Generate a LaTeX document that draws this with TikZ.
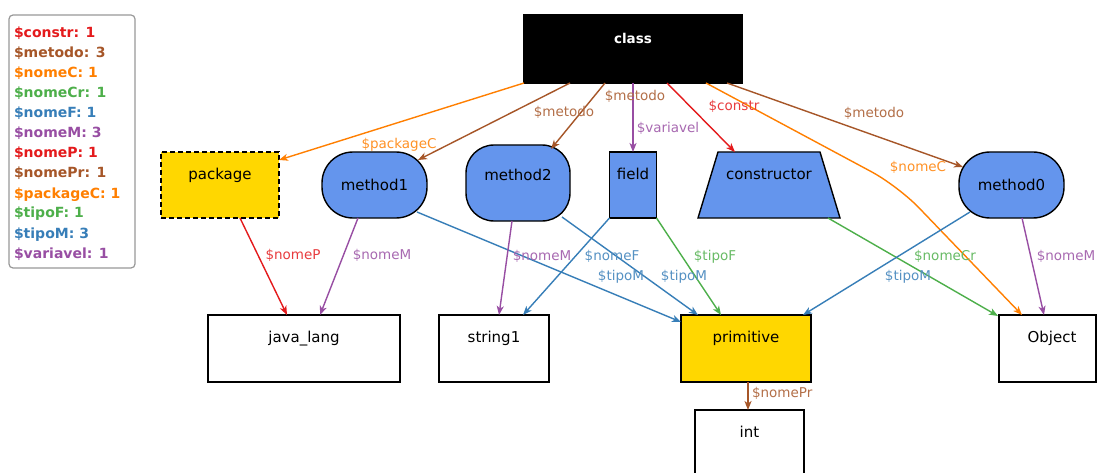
\documentclass[tikz,border=0pt]{standalone}
\usepackage{fontspec}
\setmainfont{DejaVu Sans}
\usetikzlibrary{arrows.meta,calc,backgrounds}
\definecolor{cred}{HTML}{E41A1C}
\definecolor{cbrown}{HTML}{A65628}
\definecolor{corange}{HTML}{FF7F00}
\definecolor{cgreen}{HTML}{4DAF4A}
\definecolor{cblue}{HTML}{377EB8}
\definecolor{cpurple}{HTML}{984EA3}
\definecolor{nblue}{HTML}{6495ED}
\definecolor{nyellow}{HTML}{FFD700}
\begin{document}
\begin{tikzpicture}[x=1pt,y=-1pt,
  every node/.style={inner sep=0pt,outer sep=0pt},
  box/.style={draw=black,line width=1.4pt,fill=white},
  yellowbox/.style={box,fill=nyellow},
  bluebox/.style={box,fill=nblue},
  roundbox/.style={box,fill=nblue,rounded corners=31pt},
  ntxt/.style={font=\fontsize{15}{18}\selectfont,text height=11pt,text depth=3pt},
  elab/.style={font=\fontsize{13.5}{16}\selectfont,text height=10pt,text depth=3pt},
  legtxt/.style={font=\bfseries\fontsize{14}{20}\selectfont,anchor=base west},
  edge/.style={line width=1.4pt,-{Stealth[length=9pt,width=7pt,inset=2.5pt]}}]
\clip (0,0) rectangle (1097,473);

% legend
\node[draw=gray!80,line width=1.2pt,rounded corners=4pt,minimum width=126pt,minimum height=253pt] (legend) at (72,141.5) {};
\foreach \t/\c [count=\i from 0] in {constr: 1/cred, metodo: 3/cbrown, nomeC: 1/corange, nomeCr: 1/cgreen, nomeF: 1/cblue, nomeM: 3/cpurple, nomeP: 1/cred, nomePr: 1/cbrown, packageC: 1/corange, tipoF: 1/cgreen, tipoM: 3/cblue, variavel: 1/cpurple}
  \node[legtxt,text=\c] (leg\i) at (14,38+20*\i) {\$\t};

% nodes
\node[box,fill=black,minimum width=218pt,minimum height=68pt,
  label={[ntxt,font=\bfseries\fontsize{13.5}{16}\selectfont,text=white,yshift=9pt]center:class}] (class) at (633,49) {};
\node[yellowbox,dash pattern=on 5pt off 3pt,minimum width=118pt,minimum height=66pt,
  label={[ntxt,yshift=9pt]center:package}] (package) at (220,185) {};
\node[roundbox,minimum width=105pt,minimum height=66pt,
  label={[ntxt,yshift=-2pt]center:method1}] (method1) at (374.5,185) {};
\node[roundbox,rounded corners=28pt,minimum width=104pt,minimum height=76pt,
  label={[ntxt,yshift=6pt]center:method2}] (method2) at (518,183) {};
\node[bluebox,minimum width=47pt,minimum height=66pt,
  label={[ntxt,yshift=10pt]center:field}] (field) at (633,185) {};
\node[minimum width=142pt,minimum height=66pt,
  label={[ntxt,yshift=10pt]center:constructor}] (constructor) at (769,185) {};
\node[roundbox,minimum width=105pt,minimum height=66pt,
  label={[ntxt,yshift=-2pt]center:method0}] (method0) at (1011.5,185) {};
\node[box,minimum width=192pt,minimum height=67pt,
  label={[ntxt,yshift=10.5pt]center:java\_lang}] (java) at (304,348.5) {};
\node[box,minimum width=110pt,minimum height=67pt,
  label={[ntxt,yshift=10.5pt]center:string1}] (string1) at (494,348.5) {};
\node[yellowbox,minimum width=130pt,minimum height=67pt,
  label={[ntxt,yshift=10.5pt]center:primitive}] (primitive) at (746,348.5) {};
\node[box,minimum width=97pt,minimum height=67pt,
  label={[ntxt,yshift=10.5pt,xshift=4.5pt]center:Object}] (Object) at (1047.5,348.5) {};
\node[box,minimum width=109pt,minimum height=70pt,
  label={[ntxt,yshift=12pt]center:int}] (int) at (749.5,445) {};

\begin{scope}[on background layer]
  \fill[white] (0,0) rectangle (1097,473);
  \draw[line width=1.4pt,fill=nblue] (constructor.south west) -- ($(constructor.north west)+(20,0)$)
    -- ($(constructor.north east)+(-20,0)$) -- (constructor.south east) -- cycle;
\end{scope}

% edges
\coordinate (nomeCbend) at (898,186);
\draw[edge,corange] (class.south west) -- ($(package.north east)+(0,8)$);
\draw[edge,cbrown] ($(class.south west)+(46,0)$) -- ($(method1.north east)+(-9,8)$);
\draw[edge,cbrown] ($(class.south west)+(81,0)$) -- ($(method2.north east)+(-19,4)$);
\draw[edge,cpurple] (class.south) -- (field.north);
\draw[edge,cred] ($(class.south west)+(143,0)$) -- ($(constructor.north west)+(37,0)$);
\draw[edge,corange,rounded corners=30pt] ($(class.south west)+(182,0)$) -- (nomeCbend) -- ($(Object.north west)+(23,0)$);
\draw[edge,cbrown] ($(class.south east)+(-15,0)$) -- ($(method0.north west)+(4,15)$);
\draw[edge,cred] ($(package.south west)+(79,0)$) -- ($(java.north west)+(79,0)$);
\draw[edge,cpurple] ($(method1.south west)+(36,0)$) -- ($(java.north west)+(112,0)$);
\draw[edge,cblue] ($(method1.south east)+(-10,-6)$) -- ($(primitive.north west)+(0,7)$);
\draw[edge,cpurple] ($(method2.south west)+(46,0)$) -- ($(string1.north west)+(60,0)$);
\draw[edge,cblue] ($(method2.south east)+(-8,-4)$) -- ($(primitive.north west)+(17,0)$);
\draw[edge,cblue] (field.south west) -- ($(string1.north west)+(84,0)$);
\draw[edge,cgreen] (field.south east) -- ($(primitive.north west)+(40,0)$);
\draw[edge,cgreen] ($(constructor.south east)+(-12,0)$) -- ($(Object.north west)+(-1,1)$);
\draw[edge,cblue] ($(method0.south west)+(11,-6)$) -- ($(primitive.north east)+(-8,0)$);
\draw[edge,cpurple] ($(method0.south west)+(63,0)$) -- ($(Object.north west)+(45,0)$);
\draw[edge,cbrown] ($(primitive.south)+(2,0)$) -- ($(int.north)+(-1.5,0)$);

% edge labels
\node[elab,text=corange!85!white] (l1) at (399,145) {\$packageC};
\node[elab,text=cbrown!85!white] (l2) at (564,113) {\$metodo};
\node[elab,text=cbrown!85!white] (l3) at (635,97) {\$metodo};
\node[elab,text=cpurple!85!white] (l4) at (668,129) {\$variavel};
\node[elab,text=cred!85!white] (l5) at (734,107) {\$constr};
\node[elab,text=corange!85!white] (l6) at (918,168) {\$nomeC};
\node[elab,text=cbrown!85!white] (l7) at (874,114) {\$metodo};
\node[elab,text=cred!85!white] (l8) at (293,256) {\$nomeP};
\node[elab,text=cpurple!85!white] (l9) at (382,256) {\$nomeM};
\node[elab,text=cpurple!85!white] (l10) at (542,257) {\$nomeM};
\node[elab,text=cblue!85!white] (l11) at (612,257) {\$nomeF};
\node[elab,text=cblue!85!white] (l12) at (621,277) {\$tipoM};
\node[elab,text=cblue!85!white] (l13) at (684,277) {\$tipoM};
\node[elab,text=cgreen!85!white] (l14) at (715,257) {\$tipoF};
\node[elab,text=cgreen!85!white] (l15) at (945,257) {\$nomeCr};
\node[elab,text=cblue!85!white] (l16) at (908,277) {\$tipoM};
\node[elab,text=cpurple!85!white] (l17) at (1066,257) {\$nomeM};
\node[elab,text=cbrown!85!white,anchor=west] (l18) at (752,394) {\$nomePr};
\end{tikzpicture}
\end{document}
